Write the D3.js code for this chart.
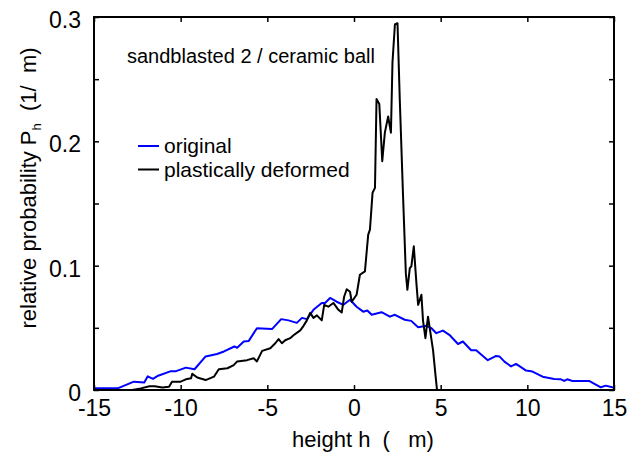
<!DOCTYPE html>
<html>
<head>
<meta charset="utf-8">
<script src="https://cdn.jsdelivr.net/npm/d3@7"></script>
<style>
  body { margin: 0; background: #fff; }
  svg text { font-family: "Liberation Sans", Arial, sans-serif; fill: #000; white-space: pre; }
</style>
</head>
<body>
<div id="chart"></div>
<script>
// original surface (blue)
let origH = [-15, -13.6, -12.7, -12.1, -11.9, -11.6, -11.3, -10.6, -10.3, -9.7, -9.2, -8.56, -7.9, -7.5, -6.9, -6.74, -6.36, -6.07, -5.6, -4.73, -4.2, -3.78, -3.3, -3.0, -2.72, -2.34, -1.86, -1.67, -1.38, -1.0, -0.61, -0.23, 0.15, 0.53, 0.77, 1.02, 1.59, 2.07, 2.36, 2.93, 3.3, 3.7, 4.18, 4.47, 4.75, 5.13, 5.5, 6.0, 6.28, 6.76, 7.05, 7.72, 8.2, 8.39, 8.68, 9.06, 9.35, 9.93, 10.3, 10.88, 11.55, 11.94, 12.13, 12.3, 12.6, 13.56, 14.24, 14.52, 14.9, 15];
let origP = [0.0015, 0.0015, 0.0067, 0.006, 0.011, 0.009, 0.0115, 0.015, 0.015, 0.018, 0.0167, 0.027, 0.029, 0.031, 0.035, 0.034, 0.039, 0.0395, 0.0497, 0.049, 0.057, 0.056, 0.054, 0.058, 0.057, 0.0645, 0.07, 0.07, 0.074, 0.071, 0.0685, 0.0726, 0.067, 0.063, 0.064, 0.0605, 0.0626, 0.059, 0.0605, 0.0565, 0.0556, 0.0505, 0.0516, 0.0497, 0.0457, 0.0478, 0.0444, 0.037, 0.039, 0.032, 0.032, 0.024, 0.0274, 0.027, 0.0228, 0.019, 0.021, 0.0156, 0.0148, 0.0107, 0.0089, 0.0086, 0.0073, 0.0086, 0.0073, 0.0073, 0.0022, 0.0035, 0.0022, 0.002];

// plastically deformed (black)
let defH = [-15, -12.8, -12.3, -11.8, -11.5, -11.05, -10.67, -10.5, -10.0, -9.7, -9.4, -9.33, -9.04, -8.56, -8.08, -7.8, -7.3, -6.94, -6.74, -6.17, -5.79, -5.6, -5.3, -4.83, -4.54, -4.35, -4.16, -3.97, -3.68, -3.49, -3.1, -2.91, -2.72, -2.53, -2.34, -2.14, -1.86, -1.72, -1.48, -1.19, -0.9, -0.71, -0.57, -0.42, -0.23, -0.13, 0.15, 0.34, 0.63, 0.82, 0.92, 1.07, 1.21, 1.3, 1.46, 1.63, 1.78, 1.97, 2.13, 2.22, 2.36, 2.51, 2.64, 2.83, 2.99, 3.08, 3.22, 3.31, 3.45, 3.6, 3.7, 3.89, 3.98, 4.12, 4.27, 4.37, 4.56, 4.71, 4.79, 15];
let defP = [0, 0, 0.0013, 0.003, 0.003, 0.002, 0.0027, 0.0067, 0.0067, 0.0086, 0.0094, 0.013, 0.010, 0.008, 0.0107, 0.0167, 0.0175, 0.020, 0.023, 0.024, 0.0255, 0.023, 0.0315, 0.0336, 0.0376, 0.041, 0.0376, 0.040, 0.0417, 0.044, 0.048, 0.0516, 0.056, 0.062, 0.058, 0.060, 0.056, 0.0685, 0.067, 0.070, 0.0645, 0.0623, 0.075, 0.081, 0.079, 0.071, 0.0766, 0.0927, 0.0954, 0.125, 0.129, 0.1586, 0.1626, 0.234, 0.230, 0.184, 0.207, 0.220, 0.207, 0.2634, 0.294, 0.295, 0.234, 0.156, 0.094, 0.0806, 0.098, 0.0995, 0.1156, 0.086, 0.0685, 0.0766, 0.056, 0.0417, 0.059, 0.0497, 0.032, 0.0107, 0, 0];

let xTicks = [-15, -10, -5, 0, 5, 10, 15];
let yTicks = [0, 0.1, 0.2, 0.3];
let yMinor = [0.05, 0.15, 0.25];

let seriesNames = ["original", "plastically deformed"];
let seriesColors = ["#0000ff", "#000000"];

let width = 643, height = 456;
let mLeft = 94, mRight = 614, mTop = 17, mBottom = 390;

let svg = d3.select("#chart")
    .append("svg")
    .attr("width", width)
    .attr("height", height);

let xScale = d3.scaleLinear().domain([-15, 15]).range([mLeft, mRight]);
let yScale = d3.scaleLinear().domain([0, 0.3]).range([mBottom, mTop]);

let line = d3.line()
    .x(d => xScale(d[0]))
    .y(d => yScale(d[1]));

let orig = origH.map((h, i) => [h, origP[i]]);
let def = defH.map((h, i) => [h, defP[i]]);

svg.append("path")
    .datum(orig)
    .attr("d", line)
    .attr("fill", "none")
    .attr("stroke", seriesColors[0])
    .attr("stroke-width", 2)
    .attr("stroke-linejoin", "round");

svg.append("path")
    .datum(def)
    .attr("d", line)
    .attr("fill", "none")
    .attr("stroke", seriesColors[1])
    .attr("stroke-width", 2)
    .attr("stroke-linejoin", "round");

// axes: ticks point inward on all four sides
let tickLen = 5;
svg.append("g")
    .attr("transform", "translate(0," + mBottom + ")")
    .call(d3.axisBottom(xScale).tickValues(xTicks).tickSizeInner(-tickLen).tickSizeOuter(0).tickFormat(d => String(d)))
    .call(g => g.select(".domain").remove())
    .call(g => g.selectAll("text").attr("y", 10).attr("font-size", 23).attr("font-family", null));

svg.append("g")
    .attr("transform", "translate(0," + mTop + ")")
    .call(d3.axisTop(xScale).tickValues(xTicks).tickSizeInner(-tickLen).tickSizeOuter(0).tickFormat(""))
    .call(g => g.select(".domain").remove());

svg.append("g")
    .attr("transform", "translate(" + mLeft + ",0)")
    .call(d3.axisLeft(yScale).tickValues(yTicks.concat(yMinor)).tickSizeInner(-tickLen).tickSizeOuter(0)
        .tickFormat(d => yTicks.includes(d) ? String(d) : ""))
    .call(g => g.select(".domain").remove())
    .call(g => g.selectAll("text").attr("x", -13).attr("dy", "0.45em").attr("font-size", 23).attr("font-family", null));

svg.append("g")
    .attr("transform", "translate(" + mRight + ",0)")
    .call(d3.axisRight(yScale).tickValues(yTicks.concat(yMinor)).tickSizeInner(-tickLen).tickSizeOuter(0).tickFormat(""))
    .call(g => g.select(".domain").remove());

svg.selectAll(".tick line").attr("stroke", "#000").attr("stroke-width", 1.5);

svg.append("rect")
    .attr("x", mLeft)
    .attr("y", mTop)
    .attr("width", mRight - mLeft)
    .attr("height", mBottom - mTop)
    .attr("fill", "none")
    .attr("stroke", "#000")
    .attr("stroke-width", 2);

// labels
svg.append("text")
    .attr("x", 363)
    .attr("y", 447)
    .attr("text-anchor", "middle")
    .attr("font-size", 22)
    .text("height h  (   m)");

let yl = svg.append("text")
    .attr("transform", "translate(36,188) rotate(-90)")
    .attr("text-anchor", "middle")
    .attr("font-size", 22);
yl.append("tspan").text("relative probability P");
yl.append("tspan").attr("font-size", 13).attr("dy", 5).text("h");
yl.append("tspan").attr("dy", -5).text("  (1/  m)");

svg.append("text")
    .attr("x", 127)
    .attr("y", 63)
    .attr("font-size", 20)
    .text("sandblasted 2 / ceramic ball");

// legend
let legend = svg.selectAll(".legend")
    .data(seriesNames)
    .join("g")
    .attr("class", "legend")
    .attr("transform", (d, i) => "translate(138," + (146 + i * 23.5) + ")");

legend.append("line")
    .attr("x1", 0).attr("x2", 21)
    .attr("stroke", (d, i) => seriesColors[i])
    .attr("stroke-width", 2);

legend.append("text")
    .attr("x", 26)
    .attr("y", 7)
    .attr("font-size", 21)
    .text(d => d);
</script>
</body>
</html>
